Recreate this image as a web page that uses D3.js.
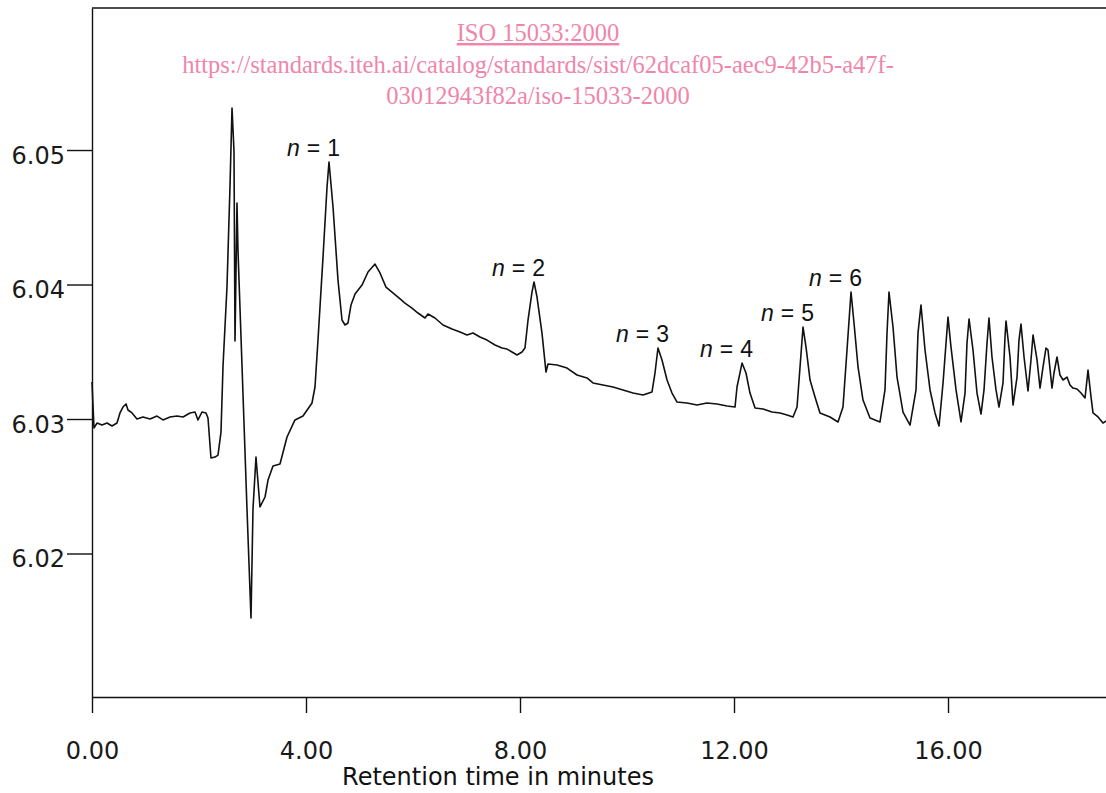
<!DOCTYPE html>
<html>
<head>
<meta charset="utf-8">
<script src="https://cdnjs.cloudflare.com/ajax/libs/d3/7.8.5/d3.min.js"></script>
<style>
  body { margin: 0; background: #fff; }
  svg { display: block; }
  .tick text { font-family: "DejaVu Sans", sans-serif; font-size: 24px; fill: #1a1a1a; }
  .tick line, .domain { stroke: #111; stroke-width: 1.4; }
</style>
</head>
<body>
<svg id="chart" width="1106" height="793"></svg>
<script>
// retention time (min) and detector signal
var times = [0.000,0.037,0.093,0.187,0.280,0.374,0.467,0.523,0.579,0.636,0.673,0.748,0.841,0.953,1.084,1.215,1.327,1.458,1.589,1.701,
  1.832,1.925,1.981,2.056,2.131,2.168,2.224,2.299,2.355,2.411,2.449,2.523,2.579,2.617,2.654,2.673,2.710,2.729,2.804,2.897,
  2.972,3.009,3.065,3.140,3.234,3.290,3.383,3.514,3.645,3.794,3.944,4.112,4.168,4.224,4.318,4.393,4.430,4.505,4.598,4.673,
  4.729,4.785,4.841,4.916,5.047,5.159,5.290,5.383,5.495,5.607,5.720,5.850,5.981,6.093,6.224,6.280,6.411,6.561,6.729,6.879,
  7.009,7.121,7.252,7.383,7.533,7.664,7.757,7.850,7.944,8.037,8.093,8.150,8.224,8.262,8.318,8.411,8.486,8.523,8.692,8.879,
  9.065,9.252,9.364,9.551,9.738,9.925,10.112,10.299,10.467,10.523,10.579,10.654,10.748,10.841,10.935,11.121,11.308,11.495,11.682,11.869,
  12.019,12.056,12.150,12.224,12.299,12.393,12.542,12.710,12.860,12.991,13.103,13.178,13.234,13.290,13.346,13.421,13.514,13.607,13.794,13.944,
  14.037,14.112,14.187,14.243,14.318,14.411,14.542,14.729,14.822,14.860,14.897,14.972,15.047,15.159,15.290,15.402,15.439,15.495,15.570,15.664,
  15.757,15.832,15.907,15.963,16.000,16.056,16.150,16.243,16.318,16.355,16.393,16.467,16.542,16.617,16.673,16.729,16.766,16.822,16.897,16.953,
  17.028,17.065,17.084,17.159,17.215,17.290,17.327,17.364,17.421,17.495,17.551,17.589,17.664,17.720,17.776,17.832,17.869,17.944,17.981,18.037,
  18.093,18.150,18.224,18.280,18.336,18.411,18.486,18.561,18.617,18.673,18.710,18.804,18.897,18.953];
var signal = [6.03275,6.02933,6.02970,6.02955,6.02970,6.02948,6.02970,6.03045,6.03089,6.03112,6.03067,6.03045,6.03000,6.03015,6.03000,6.03022,6.02993,6.03015,6.03022,6.03015,
  6.03045,6.03052,6.02993,6.03052,6.03045,6.03007,6.02710,6.02717,6.02732,6.02903,6.03394,6.03981,6.04725,6.05312,6.04993,6.03580,6.04606,6.04249,6.03394,6.02331,
  6.01520,6.02331,6.02717,6.02346,6.02420,6.02546,6.02651,6.02665,6.02866,6.02993,6.03022,6.03119,6.03238,6.03587,6.04204,6.04725,6.04911,6.04576,6.04033,6.03736,
  6.03699,6.03714,6.03848,6.03929,6.03996,6.04093,6.04152,6.04086,6.03981,6.03944,6.03907,6.03862,6.03825,6.03788,6.03751,6.03781,6.03751,6.03699,6.03669,6.03647,
  6.03625,6.03639,6.03610,6.03587,6.03550,6.03528,6.03520,6.03498,6.03476,6.03498,6.03528,6.03736,6.03944,6.04019,6.03907,6.03639,6.03349,6.03409,6.03401,6.03379,
  6.03327,6.03305,6.03268,6.03253,6.03238,6.03216,6.03193,6.03178,6.03201,6.03342,6.03528,6.03439,6.03290,6.03193,6.03126,6.03119,6.03104,6.03119,6.03112,6.03097,
  6.03089,6.03238,6.03416,6.03342,6.03193,6.03082,6.03074,6.03052,6.03045,6.03030,6.03015,6.03089,6.03387,6.03684,6.03535,6.03290,6.03164,6.03045,6.03015,6.02978,
  6.03089,6.03513,6.03944,6.03714,6.03387,6.03141,6.03007,6.02978,6.03216,6.03639,6.03944,6.03684,6.03312,6.03052,6.02955,6.03216,6.03639,6.03848,6.03513,6.03216,
  6.03045,6.02948,6.03268,6.03565,6.03758,6.03535,6.03216,6.02978,6.03193,6.03565,6.03744,6.03513,6.03193,6.03037,6.03216,6.03565,6.03751,6.03461,6.03216,6.03089,
  6.03268,6.03610,6.03729,6.03461,6.03104,6.03312,6.03587,6.03706,6.03461,6.03208,6.03439,6.03625,6.03439,6.03230,6.03387,6.03528,6.03513,6.03230,6.03342,6.03461,
  6.03327,6.03290,6.03312,6.03253,6.03230,6.03223,6.03193,6.03156,6.03364,6.03164,6.03045,6.03015,6.02970,6.02985];

var yTicks = [6.02, 6.03, 6.04, 6.05];
var xTicks = [0, 4, 8, 12, 16];

// peak labels (n = 1..6) tied to their peak apex
var peakN = [1, 2, 3, 4, 5, 6];
var peakTimes = [4.430, 8.262, 10.579, 12.150, 13.290, 14.187];
var peakValues = [6.04911, 6.04019, 6.03528, 6.03416, 6.03684, 6.03944];

var watermark = [
  "ISO 15033:2000",
  "https://standards.iteh.ai/catalog/standards/sist/62dcaf05-aec9-42b5-a47f-",
  "03012943f82a/iso-15033-2000"
];

var svg = d3.select("#chart");
var mLeft = 92, mTop = 8, mRight = 1106, mBottom = 697;

var x = d3.scaleLinear().domain([0, 18.953]).range([mLeft, mRight]);
var y = d3.scaleLinear().domain([6.00933, 6.06056]).range([mBottom, mTop]);

// frame top line
svg.append("line")
  .attr("x1", x(0)).attr("x2", x(18.953))
  .attr("y1", y(6.06056)).attr("y2", y(6.06056))
  .attr("stroke", "#111").attr("stroke-width", 1.4);

var yAxis = svg.append("g")
  .attr("transform", "translate(" + mLeft + ",0)")
  .call(d3.axisLeft(y).tickValues(yTicks).tickFormat(d3.format(".2f"))
    .tickSize(25).tickSizeOuter(0).tickPadding(2));
yAxis.selectAll(".tick text").attr("dy", 13);

var xAxis = svg.append("g")
  .attr("transform", "translate(0," + mBottom + ")")
  .call(d3.axisBottom(x).tickValues(xTicks).tickFormat(d3.format(".2f"))
    .tickSize(16).tickSizeOuter(0));
xAxis.selectAll(".tick text").attr("y", 62).attr("dy", 0);

svg.append("text")
  .attr("x", 498).attr("y", 785)
  .attr("text-anchor", "middle")
  .attr("font-family", "DejaVu Sans, sans-serif")
  .attr("font-size", 24)
  .attr("fill", "#111")
  .text("Retention time in minutes");

var data = times.map(function(t, i) { return [t, signal[i]]; });
var line = d3.line().x(function(d) { return x(d[0]); }).y(function(d) { return y(d[1]); });

svg.append("path")
  .datum(data)
  .attr("d", line)
  .attr("fill", "none")
  .attr("stroke", "#111")
  .attr("stroke-width", 1.6)
  .attr("stroke-linejoin", "round");

// n = k labels
peakN.forEach(function(n, i) {
  var t = svg.append("text")
    .attr("x", x(peakTimes[i]) - 42)
    .attr("y", y(peakValues[i]) - 6)
    .attr("font-family", "Liberation Sans, Arial, sans-serif")
    .attr("font-size", 23)
    .attr("fill", "#111");
  t.append("tspan").attr("font-style", "italic").text("n");
  t.append("tspan").attr("dx", 7).text("=");
  t.append("tspan").attr("dx", 7).text(n);
});

// watermark text
var wm = svg.append("g")
  .attr("font-family", "Liberation Serif, Times New Roman, serif")
  .attr("font-size", 24.5)
  .attr("fill", "#ef86aa")
  .attr("text-anchor", "middle");
watermark.forEach(function(s, i) {
  wm.append("text")
    .attr("x", 538)
    .attr("y", 41 + i * 31.5)
    .attr("text-decoration", i === 0 ? "underline" : null)
    .text(s);
});
</script>
</body>
</html>
